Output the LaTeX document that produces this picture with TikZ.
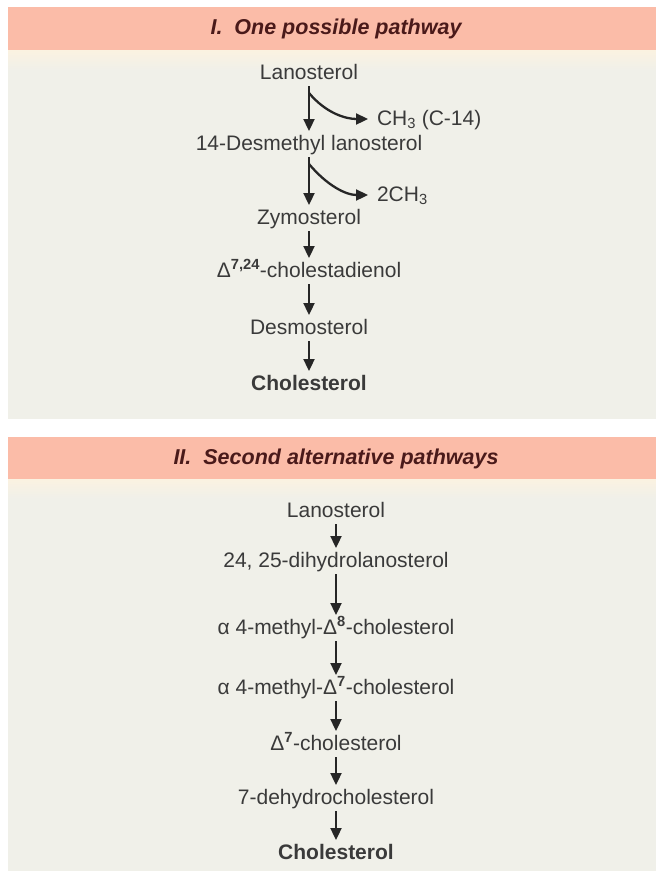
\documentclass[tikz,border=0pt]{standalone}
\usepackage{fontspec}
\setmainfont{Liberation Sans}
\usetikzlibrary{arrows.meta,positioning}
\definecolor{headpink}{HTML}{FBBCA8}
\definecolor{panelgrey}{HTML}{F0F0E9}
\definecolor{panelcream}{HTML}{FBF2E1}
\definecolor{headtext}{HTML}{4A1A1A}
\definecolor{cmpdtext}{HTML}{3A3A3A}

\begin{document}
\begin{tikzpicture}[x=1pt,y=-1pt, cmpd/.style={inner sep=0pt,outer sep=3pt,text height=16pt,text depth=4pt,
  font=\fontsize{21}{25}\selectfont,text=cmpdtext}, head/.style={font=\fontsize{21.5}{26}\selectfont\bfseries\itshape,
  text=headtext}, conv/.style={->,line width=2.3pt,draw=black!85}, >={Triangle[length=12pt,width=11pt]}]
\useasboundingbox (0,0) rectangle (656,871);
\fill[white] (0,0) rectangle (656,871);
% panel backgrounds
\fill[headpink] (8,7) rectangle (656,50);
\shade[top color=panelcream,bottom color=panelgrey] (8,50) rectangle (656,70);
\fill[panelgrey] (8,70) rectangle (656,419);
\fill[headpink] (8,437) rectangle (656,479);
\shade[top color=panelcream,bottom color=panelgrey] (8,479) rectangle (656,498);
\fill[panelgrey] (8,498) rectangle (656,871);
\node[head] (h1) at (336,29) {I.\ \ One possible pathway};
\node[head] (h2) at (336,459) {II.\ \ Second alternative pathways};

% I. one possible pathway
\node[cmpd] (lan1) at (309,73) {Lanosterol};
\node[cmpd,below=45pt of lan1] (desm) {14-Desmethyl lanosterol};
\node[cmpd,below=48pt of desm] (zym) {Zymosterol};
\node[cmpd,below=27pt of zym] (chd) {Δ\textsuperscript{\textbf{7,24}}-cholestadienol};
\node[cmpd,below=31pt of chd] (dsm) {Desmosterol};
\node[cmpd,below=30pt of dsm] (chol1) {\textbf{Cholesterol}};
\node[cmpd,anchor=west] (ch3) at (374,119) {CH\textsubscript{3} (C-14)};
\node[cmpd,anchor=west] (tch3) at (374,195) {2CH\textsubscript{3}};
\coordinate[below=7pt of lan1] (b1);
\coordinate[below=7pt of desm] (b2);
\draw[conv] (lan1)--(desm); \draw[conv] (desm)--(zym); \draw[conv] (zym)--(chd);
\draw[conv] (chd)--(dsm); \draw[conv] (dsm)--(chol1);
\draw[conv,shorten >=6pt] (b1) to[out=-50,in=180] (ch3.west);
\draw[conv,shorten >=6pt] (b2) to[out=-50,in=180] (tch3.west);

% II. second alternative pathways
\node[cmpd] (lan2) at (336,511) {Lanosterol};
\node[cmpd,below=24pt of lan2] (dhl) {24, 25-dihydrolanosterol};
\node[cmpd,below=41pt of dhl] (mde8) {α 4-methyl-Δ\textsuperscript{\textbf{8}}-cholesterol};
\node[cmpd,below=34pt of mde8] (mde7) {α 4-methyl-Δ\textsuperscript{\textbf{7}}-cholesterol};
\node[cmpd,below=30pt of mde7] (de7) {Δ\textsuperscript{\textbf{7}}-cholesterol};
\node[cmpd,below=28pt of de7] (dhc) {7-dehydrocholesterol};
\node[cmpd,below=29pt of dhc] (chol2) {\textbf{Cholesterol}};
\draw[conv] (lan2)--(dhl); \draw[conv] (dhl)--(mde8); \draw[conv] (mde8)--(mde7);
\draw[conv] (mde7)--(de7); \draw[conv] (de7)--(dhc); \draw[conv] (dhc)--(chol2);
\end{tikzpicture}
\end{document}
